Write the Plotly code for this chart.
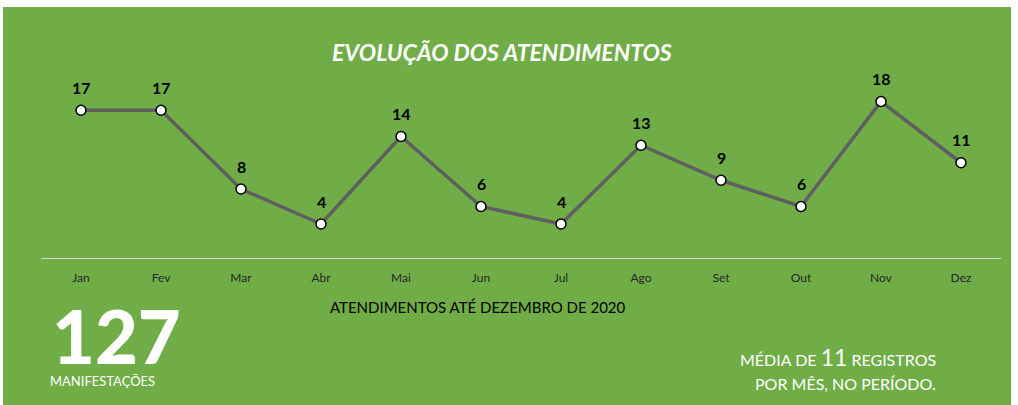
import plotly.graph_objects as go

months = ["Jan", "Fev", "Mar", "Abr", "Mai", "Jun", "Jul", "Ago", "Set", "Out", "Nov", "Dez"]
atendimentos = [17, 17, 8, 4, 14, 6, 4, 13, 9, 6, 18, 11]
total = 127
media = 11

GREEN = "#70AD47"
FONT = "Lato"

def px(x):
    return (x - 41) / 960

def py(y):
    return (259 - y) / 175

fig = go.Figure()
fig.add_trace(go.Scatter(
    x=months, y=atendimentos, mode="lines+markers",
    line=dict(color="#5f5f5f", width=3.5),
    marker=dict(size=10, color="white", line=dict(color="black", width=1.5)),
    cliponaxis=False, hoverinfo="skip",
))

for m, v in zip(months, atendimentos):
    fig.add_annotation(x=m, y=v, xref="x", yref="y", text=f"<b>{v}</b>", showarrow=False,
                       yshift=23, font=dict(family=FONT, size=16, color="black"))

fig.add_shape(type="rect", xref="paper", yref="paper",
              x0=px(3), x1=px(1011), y0=py(405), y1=py(7),
              fillcolor=GREEN, line=dict(width=0), layer="below")

fig.update_layout(
    width=1018, height=405,
    margin=dict(l=41, r=17, t=84, b=146),
    paper_bgcolor="white", plot_bgcolor=GREEN,
    showlegend=False,
    font=dict(family=FONT),
    xaxis=dict(type="category", range=[-0.5, 11.5], showgrid=False, zeroline=False,
               showline=False, ticks="", tickfont=dict(size=12, color="#262626", family=FONT),
               ticklabelstandoff=10, fixedrange=True),
    yaxis=dict(range=[0, 20], visible=False, fixedrange=True),
)

# x axis baseline
fig.add_shape(type="line", xref="paper", yref="y", x0=0, x1=1, y0=0, y1=0,
              line=dict(color="#D9D9D9", width=2))

def note(text, x, y, size, color="white", xanchor="center", weight="normal"):
    fig.add_annotation(text=text, xref="paper", yref="paper", x=px(x), y=py(y),
                       xanchor=xanchor, yanchor="middle", showarrow=False,
                       font=dict(family=FONT, size=size, color=color, weight=weight))

note("<i>EVOLUÇÃO DOS ATENDIMENTOS</i>", 502, 52, 23, weight="bold")
note("ATENDIMENTOS ATÉ DEZEMBRO DE 2020", 478, 307, 15, color="black")
note(str(total), 116, 335, 74, weight=900)
note("MANIFESTAÇÕES", 102, 381, 13)
note(f"MÉDIA DE <span style='font-size:23px'>{media}</span> REGISTROS", 938, 357, 16, xanchor="right")
note("POR MÊS, NO PERÍODO.", 938, 383, 16, xanchor="right")

fig.write_html("out.html", config={"displayModeBar": False},
               post_script="document.body.style.margin='0';")
